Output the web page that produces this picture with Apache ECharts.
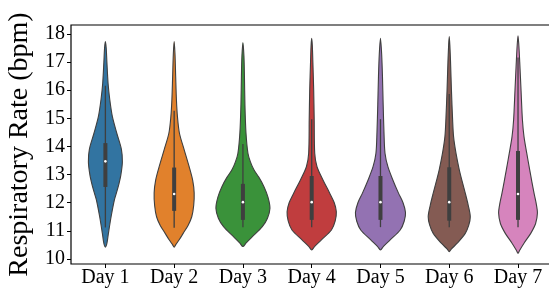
<!DOCTYPE html>
<html>
<head>
<meta charset="utf-8">
<script src="https://cdn.jsdelivr.net/npm/echarts@6/dist/echarts.min.js"></script>
<style>html,body{margin:0;padding:0;background:#fff}#c{width:549px;height:291px}</style>
</head>
<body>
<div id="c"></div>
<script>
const days = ['Day 1', 'Day 2', 'Day 3', 'Day 4', 'Day 5', 'Day 6', 'Day 7'];
const yTicks = [10, 11, 12, 13, 14, 15, 16, 17, 18];
const colors = ['#3274a1', '#e1812c', '#3a923a', '#c03d3e', '#9372b2', '#845b53', '#d684bd'];

// box-plot summary per day
const whiskerLow  = [11.12, 11.11, 11.13, 11.13, 11.13, 11.13, 11.13];
const q1          = [12.56, 11.71, 11.39, 11.39, 11.39, 11.36, 11.39];
const median      = [13.47, 12.31, 12.02, 12.02, 12.02, 12.02, 12.31];
const q3          = [14.12, 13.25, 12.67, 12.95, 12.95, 13.26, 13.84];
const whiskerHigh = [16.16, 15.27, 14.09, 14.97, 14.97, 15.87, 17.16];

// density profiles: [rate, half-width as fraction of category band]
const densityDay1 = [[10.42,0],[10.55,.022],[10.91,.044],[11.5,.083],[12.1,.131],[12.4,.167],[12.69,.199],[13.0,.226],[13.45,.247],[13.9,.233],[14.47,.166],[15.06,.102],[15.66,.064],[16.25,.039],[17.0,.022],[17.5,.012],[17.73,0]];
const densityDay2 = [[10.42,0],[10.5,.022],[10.68,.073],[10.91,.131],[11.2,.204],[11.5,.256],[11.9,.284],[12.35,.291],[12.8,.269],[13.28,.218],[13.88,.146],[14.47,.077],[15.06,.048],[15.66,.033],[16.5,.022],[17.3,.012],[17.73,0]];
const densityDay3 = [[10.44,0],[10.56,.044],[10.79,.137],[11.15,.282],[11.45,.357],[11.8,.393],[12.2,.364],[12.57,.306],[12.9,.233],[13.17,.160],[13.45,.109],[13.76,.073],[14.5,.044],[15.5,.029],[16.5,.022],[17.2,.015],[17.7,0]];
const densityDay4 = [[10.32,0],[10.45,.044],[10.68,.141],[11.03,.287],[11.35,.342],[11.68,.358],[12.0,.328],[12.34,.262],[12.81,.164],[13.28,.077],[13.76,.044],[15.0,.036],[16.0,.029],[17.0,.017],[17.6,.009],[17.85,0]];
const densityDay5 = [[10.32,0],[10.45,.044],[10.68,.141],[11.03,.287],[11.35,.346],[11.65,.364],[12.0,.328],[12.34,.262],[12.81,.180],[13.28,.108],[13.76,.066],[14.5,.051],[15.5,.039],[16.5,.029],[17.3,.017],[17.85,0]];
const densityDay6 = [[10.26,0],[10.35,.029],[10.56,.116],[10.91,.233],[11.2,.284],[11.5,.306],[11.9,.277],[12.34,.233],[12.75,.189],[13.17,.146],[13.76,.098],[14.35,.063],[15.0,.048],[16.0,.032],[17.0,.019],[17.6,.009],[17.91,0]];
const densityDay7 = [[10.2,0],[10.3,.022],[10.56,.087],[10.91,.185],[11.25,.255],[11.63,.282],[12.0,.262],[12.34,.233],[12.75,.201],[13.17,.170],[13.76,.127],[14.35,.087],[14.95,.064],[16.0,.044],[17.0,.025],[17.6,.012],[17.94,0]];
const profiles = [densityDay1, densityDay2, densityDay3, densityDay4, densityDay5, densityDay6, densityDay7];

const FONT = '"Liberation Serif", "Times New Roman", serif';
const chart = echarts.init(document.getElementById('c'), null, {renderer: 'canvas'});

function renderViolin(params, api) {
  const i = params.dataIndex;
  const bw = api.size([1, 0])[0];
  const prof = profiles[i];
  const pts = [];
  for (let k = 0; k < prof.length; k++) {
    const p = api.coord([i, prof[k][0]]);
    pts.push([p[0] - prof[k][1] * bw, p[1]]);
  }
  for (let k = prof.length - 2; k >= 1; k--) {
    const p = api.coord([i, prof[k][0]]);
    pts.push([p[0] + prof[k][1] * bw, p[1]]);
  }
  const lo = api.coord([i, whiskerLow[i]]);
  const hi = api.coord([i, whiskerHigh[i]]);
  const b1 = api.coord([i, q1[i]]);
  const b3 = api.coord([i, q3[i]]);
  const md = api.coord([i, median[i]]);
  const cx = lo[0];
  return {
    type: 'group',
    children: [
      {type: 'polygon', shape: {points: pts, smooth: 0.3},
       style: {fill: colors[i], stroke: '#3f3f3f', lineWidth: 1.1}},
      {type: 'line', shape: {x1: cx, y1: lo[1], x2: cx, y2: hi[1]},
       style: {stroke: '#3f3f3f', lineWidth: 1.3}},
      {type: 'rect', shape: {x: cx - 2, y: b3[1], width: 4, height: b1[1] - b3[1]},
       style: {fill: '#3f3f3f'}},
      {type: 'circle', shape: {cx: cx, cy: md[1], r: 1.3}, style: {fill: '#fff'}}
    ]
  };
}

chart.setOption({
  animation: false,
  backgroundColor: '#fff',
  grid: {left: 71, top: 25, right: -3.4, bottom: 27, show: true, borderColor: '#000', borderWidth: 1.2,
         backgroundColor: 'transparent', containLabel: false, outerBoundsMode: 'none'},
  xAxis: {
    type: 'category', data: days, boundaryGap: true,
    axisLine: {show: false},
    axisTick: {show: true, alignWithLabel: true, length: 4, lineStyle: {color: '#000', width: 1}},
    axisLabel: {fontFamily: FONT, fontSize: 20, color: '#000', margin: 4}
  },
  yAxis: {
    type: 'value', min: 9.82, max: 18.32,
    splitLine: {show: false},
    axisLine: {show: false},
    axisTick: {show: true, length: 4, customValues: yTicks, lineStyle: {color: '#000', width: 1}},
    axisLabel: {fontFamily: FONT, fontSize: 20, color: '#000', margin: 6, customValues: yTicks},
    name: 'Respiratory Rate (bpm)', nameLocation: 'middle', nameGap: 30,
    nameTextStyle: {fontFamily: FONT, fontSize: 28, color: '#000'}
  },
  series: [{
    type: 'custom',
    renderItem: renderViolin,
    encode: {x: 0, y: 1},
    data: days.map((d, i) => [i, median[i]])
  }]
});
</script>
</body>
</html>
